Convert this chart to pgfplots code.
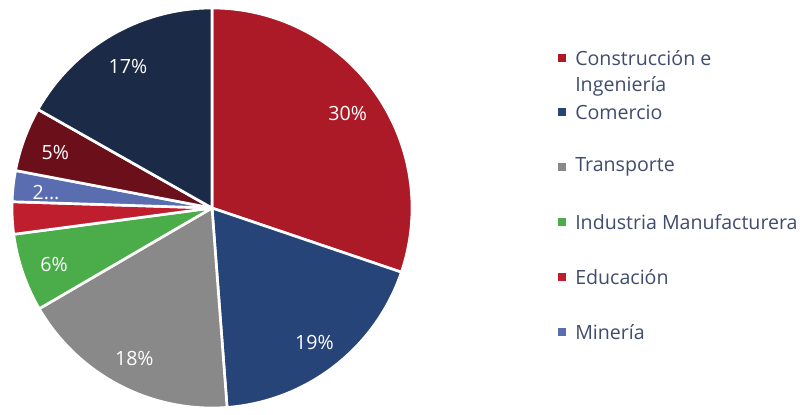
\documentclass[border=0pt]{standalone}
\usepackage{pgfplots}
\usepackage{pgfplotstable}
\pgfplotsset{compat=1.18}
\usepackage{fontspec}
\setmainfont{Open Sans}

\definecolor{pie0}{HTML}{AD1A27}
\definecolor{pie1}{HTML}{264478}
\definecolor{pie2}{HTML}{898989}
\definecolor{pie3}{HTML}{4AAD4A}
\definecolor{pie4}{HTML}{BE1E2D}
\definecolor{pie5}{HTML}{5A6DB0}
\definecolor{pie6}{HTML}{6B0F1A}
\definecolor{pie7}{HTML}{1B2A47}
\definecolor{legtext}{HTML}{404B6E}

\pgfplotstableread{
value
30.2
18.6
17.8
6.3
2.6
2.5
5.2
16.8
}\piedata

\newcommand\pielabel[1]{\ifcase#1 30\%\or 19\%\or 18\%\or 6\%\or \or 2...\or 5\%\or 17\%\fi}
\newcommand\legfont{\fontsize{14.7}{17}\selectfont}
\newcommand\legentry[3]{%
  \fill[#1] (axis cs:1.75,#2) ++(-3pt,-3pt) rectangle ++(6pt,6pt);
  \node[anchor=west, text=legtext, inner sep=0pt, font=\legfont] at (axis cs:1.815,#2) {#3};}

\begin{document}
\begin{tikzpicture}
\begin{axis}[
  hide axis,
  x=150pt, y=150pt,
  xmin=-1.06, xmax=2.95,
  ymin=-1.005, ymax=1.04,
  clip=false,
]
\path (rel axis cs:0,0) rectangle (rel axis cs:1,1);
\def\startangle{90}
\pgfplotsforeachungrouped \i in {0,...,7} {
  \pgfplotstablegetelem{\i}{value}\of\piedata
  \pgfmathsetmacro\endangle{\startangle - 3.6*\pgfplotsretval}
  \pgfmathsetmacro\midangle{(\startangle+\endangle)/2}
  \edef\temp{\noexpand\fill[pie\i, draw=white, line width=2pt, line join=round]
    (axis cs:0,0) -- (axis cs:{cos(\startangle)},{sin(\startangle)})
    arc[start angle=\startangle, end angle=\endangle, radius=150pt] -- cycle;
    \noexpand\node[white, font=\noexpand\legfont]
      at (axis cs:{0.835*cos(\midangle)},{0.835*sin(\midangle)-0.012}) {\noexpand\pielabel{\i}};}
  \temp
  \global\let\startangle\endangle
}
\legentry{pie0}{0.75}{Construcción e}
\node[anchor=west, text=legtext, inner sep=0pt, font=\legfont] at (axis cs:1.815,0.61) {Ingeniería};
\legentry{pie1}{0.48}{Comercio}
\legentry{pie2}{0.205}{Transporte}
\legentry{pie3}{-0.07}{Industria Manufacturera}
\legentry{pie4}{-0.345}{Educación}
\legentry{pie5}{-0.62}{Minería}
\end{axis}
\end{tikzpicture}
\end{document}
